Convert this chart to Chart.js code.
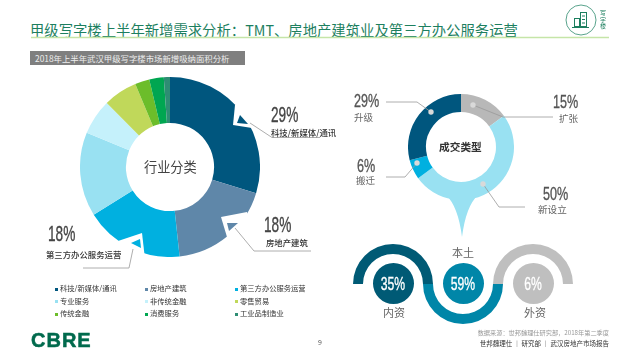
<!DOCTYPE html>
<html>
<head>
<meta charset="utf-8">
<script src="https://cdn.jsdelivr.net/npm/chart.js@4"></script>
<style>
    html, body { margin: 0; padding: 0; background: #fff; }
    #page { position: relative; width: 641px; height: 359px; overflow: hidden; font-family: "Noto Sans CJK SC", sans-serif; }
    canvas, svg, #page div { position: absolute; }
    svg { left: 0; top: 0; pointer-events: none; }
    #page div { white-space: nowrap; line-height: 1; }
    #title { left: 30px; top: 23px; font-size: 14.35px; color: #1d7f5f; }
    #bar { left: 30px; top: 51px; width: 215px; height: 14px; background: #7f7f7f; }
    #bar-text { left: 35px; top: 54px; font-size: 8.4px; color: #eee; }
    .pct { font-family: "Liberation Sans", sans-serif; color: #444; transform-origin: left top; -webkit-text-stroke: 0.35px currentColor; }
    .big { font-size: 22px; transform: scaleX(0.62); }
    .mid { font-size: 18.5px; color: #555; transform: scaleX(0.68); }
    .cap { font-size: 8.4px; color: #333; font-weight: 500; }
    .sub { font-size: 9.6px; color: #666; }
    .in { font-size: 19px; color: #fff; text-align: center; width: 40px; transform: scaleX(0.64); transform-origin: center; }
    .org { font-size: 11px; color: #666; }
    .leg { font-size: 7.3px; color: #333; }
    .sq { width: 3px; height: 3px; }
</style>
</head>
<body>
<div id="page">
    <div id="title">甲级写字楼上半年新增需求分析：TMT、房地产建筑业及第三方办公服务运营</div>
    <div id="bar"></div>
    <div id="bar-text">2018年上半年武汉甲级写字楼市场新增吸纳面积分析</div>

    <canvas id="industry-chart" width="180" height="180" style="left:80px;top:77px"></canvas>
    <canvas id="type-chart" width="106" height="106" style="left:408px;top:94px"></canvas>
    <canvas id="arc-0" width="80" height="40" style="left:353px;top:244px"></canvas>
    <canvas id="arc-1" width="80" height="40" style="left:423px;top:284px"></canvas>
    <canvas id="arc-2" width="80" height="40" style="left:493px;top:244px"></canvas>
    <canvas id="dot-0" width="41" height="41" style="left:373px;top:263px"></canvas>
    <canvas id="dot-1" width="41" height="41" style="left:443px;top:263px"></canvas>
    <canvas id="dot-2" width="41" height="41" style="left:513px;top:263px"></canvas>

    <svg width="641" height="359">
        <line x1="31" y1="37.5" x2="609" y2="37.5" stroke="#c5e5a8" stroke-width="1.5"/>
        <!-- callout notches on the big ring -->
        <polygon points="235,105 233,125 252,128 256,100" fill="#fff"/>
        <polygon points="240,115 237,123 248,124" fill="#00567e"/>
        <polygon points="221,217 247,212 250,240 227,237" fill="#fff"/>
        <polygon points="227,223 238,223 229,231" fill="#5f87a9"/>
        <polygon points="118,241 142,233 145,259 118,259" fill="#fff"/>
        <polygon points="131,243 140,239 141,248" fill="#00b0e0"/>
        <!-- the tail under the small ring -->
        <path d="M446,195 Q458,206 462,237 Q466,206 478,195 Z" fill="#99e1f2"/>
        <!-- leader lines -->
        <g fill="none" stroke="#999" stroke-width="0.8">
            <polyline points="250,123 272,137.5 320,137.5"/>
            <polyline points="235,228 254,251 311,251"/>
            <polyline points="133,249 129,268 83,268"/>
            <polyline points="386,102 417,102 431,112"/>
            <polyline points="473,105 503,117 553,117"/>
            <polyline points="386,177 405,177 417,163"/>
            <polyline points="483,184 499,207 525,207"/>
        </g>
        <g fill="#d9d9d9">
            <circle cx="431" cy="112" r="2.7"/>
            <circle cx="473" cy="105" r="2.7"/>
            <circle cx="417" cy="163" r="2.7"/>
            <circle cx="483" cy="184" r="2.7"/>
        </g>
        <!-- office tower badge -->
        <circle cx="581" cy="20" r="15" fill="none" stroke="#2e8b6e" stroke-width="0.8"/>
        <g fill="none" stroke="#1d7f5f" stroke-width="1">
            <rect x="574.5" y="18.5" width="5" height="8"/>
            <rect x="580.5" y="12.5" width="6" height="14"/>
            <line x1="572" y1="27.5" x2="589" y2="27.5"/>
            <line x1="582" y1="16" x2="585" y2="16"/>
            <line x1="582" y1="19.5" x2="585" y2="19.5"/>
            <line x1="582" y1="23" x2="585" y2="23"/>
        </g>
    </svg>

    <div class="pct big" style="left:271px;top:104px" id="p-0"></div>
    <div class="cap" style="left:271px;top:128px">科技/新媒体/通讯</div>
    <div class="pct big" style="left:264px;top:214px" id="p-1"></div>
    <div class="cap" style="left:266px;top:238px">房地产建筑</div>
    <div class="pct big" style="left:48px;top:223px" id="p-2"></div>
    <div class="cap" style="left:46px;top:250px">第三方办公服务运营</div>
    <div style="left:144px;top:160px;font-size:13.2px;color:#444">行业分类</div>
    <div style="left:439px;top:142px;font-size:10.7px;color:#333;font-weight:700">成交类型</div>

    <div class="pct mid" style="left:354px;top:92px" id="t-0"></div>
    <div class="sub" style="left:354px;top:113px">升级</div>
    <div class="pct mid" style="left:553px;top:93px" id="t-1"></div>
    <div class="sub" style="left:559px;top:114px">扩张</div>
    <div class="pct mid" style="left:357px;top:157px" id="t-2"></div>
    <div class="sub" style="left:356px;top:176px">搬迁</div>
    <div class="pct mid" style="left:543px;top:185px" id="t-3"></div>
    <div class="sub" style="left:538px;top:205px">新设立</div>

    <div class="pct in" style="left:373px;top:274px" id="o-0"></div>
    <div class="pct in" style="left:443px;top:274px" id="o-1"></div>
    <div class="pct in" style="left:513px;top:274px" id="o-2"></div>
    <div class="org" style="left:383px;top:307px" id="n-0"></div>
    <div class="org" style="left:452px;top:247px" id="n-1"></div>
    <div class="org" style="left:524px;top:307px" id="n-2"></div>

    <div id="legend"></div>

    <div style="left:31px;top:329px;font:700 20px 'Liberation Sans',sans-serif;color:#006a4d;letter-spacing:1px;-webkit-text-stroke:0.5px #006a4d">CBRE</div>
    <div style="left:318px;top:339px;font-size:7px;color:#555">9</div>
    <div style="right:32px;top:330px;font-size:6.2px;color:#999">数据来源：世邦魏理仕研究部，2018年第二季度</div>
    <div style="right:32px;top:340px;font-size:6.5px;color:#333">世邦魏理仕 ｜ 研究部 ｜ 武汉房地产市场报告</div>
    <div style="left:600px;top:10px;font-size:6px;line-height:6.5px;color:#1d7f5f">写<br>字<br>楼</div>
</div>

<script>
    // Industry split of newly leased area
    const industryLabels = ["科技/新媒体/通讯", "房地产建筑", "第三方办公服务运营", "专业服务", "非传统金融", "零售贸易", "传统金融", "消费服务", "工业品制造业"];
    const industryValues = [29.7, 18.6, 17.8, 15.1, 6.4, 6.1, 2.6, 2.6, 1.1];
    const industryColors = ["#00567e", "#5f87a9", "#00b0e0", "#99e1f2", "#c5f1fb", "#c0d85a", "#6cbd2a", "#00a651", "#2e8d73"];

    // Deal types, clockwise from the top
    const typeLabels = ["扩张", "新设立", "搬迁", "升级"];
    const typeValues = [15, 50, 6, 29];
    const typeColors = ["#b8b8b8", "#99e1f2", "#00b0e0", "#00567e"];

    // Tenant origin
    const originLabels = ["内资", "本土", "外资"];
    const originValues = [35, 59, 6];
    const originColors = ["#005a75", "#0086a8", "#bfbfbf"];

    function ring(id, labels, values, colors, extra) {
        return new Chart(document.getElementById(id), {
            type: "doughnut",
            data: {
                labels: labels,
                datasets: [{ data: values, backgroundColor: colors, borderWidth: 0, hoverOffset: 0 }]
            },
            options: Object.assign({
                responsive: false,
                animation: false,
                events: [],
                plugins: { legend: { display: false }, tooltip: { enabled: false } }
            }, extra)
        });
    }

    const industryChart = ring("industry-chart", industryLabels, industryValues, industryColors, { cutout: "49%" });
    ring("type-chart", typeLabels, typeValues, typeColors, { cutout: "66%" });

    // Half rings and the filled discs under them
    originLabels.forEach((name, i) => {
        ring("arc-" + i, [name], [originValues[i]], [originColors[i]], {
            cutout: "75%",
            circumference: 180,
            rotation: i === 1 ? 90 : -90
        });
        ring("dot-" + i, [name], [originValues[i]], [originColors[i]], { cutout: 0 });
        document.getElementById("o-" + i).textContent = originValues[i] + "%";
        document.getElementById("n-" + i).textContent = name;
    });

    // Callout numbers
    ["p-0", "p-1", "p-2"].forEach((id, i) => {
        document.getElementById(id).textContent = [29, 18, 18][i] + "%";
    });
    const typeOrder = [3, 0, 2, 1];
    typeOrder.forEach((k, i) => {
        document.getElementById("t-" + i).textContent = typeValues[k] + "%";
    });

    // Legend built from the chart's own labels and colours
    const legend = document.getElementById("legend");
    const colX = [55, 145, 235];
    const rowY = [287.5, 300, 312.5];
    industryChart.data.labels.forEach((label, i) => {
        const x = colX[i % 3];
        const y = rowY[Math.floor(i / 3)];
        const sq = document.createElement("div");
        sq.className = "sq";
        sq.style.left = x + "px";
        sq.style.top = y + "px";
        sq.style.background = industryColors[i];
        const text = document.createElement("div");
        text.className = "leg";
        text.style.left = (x + 5) + "px";
        text.style.top = (y - 2.5) + "px";
        text.textContent = label;
        legend.appendChild(sq);
        legend.appendChild(text);
    });
</script>
</body>
</html>
